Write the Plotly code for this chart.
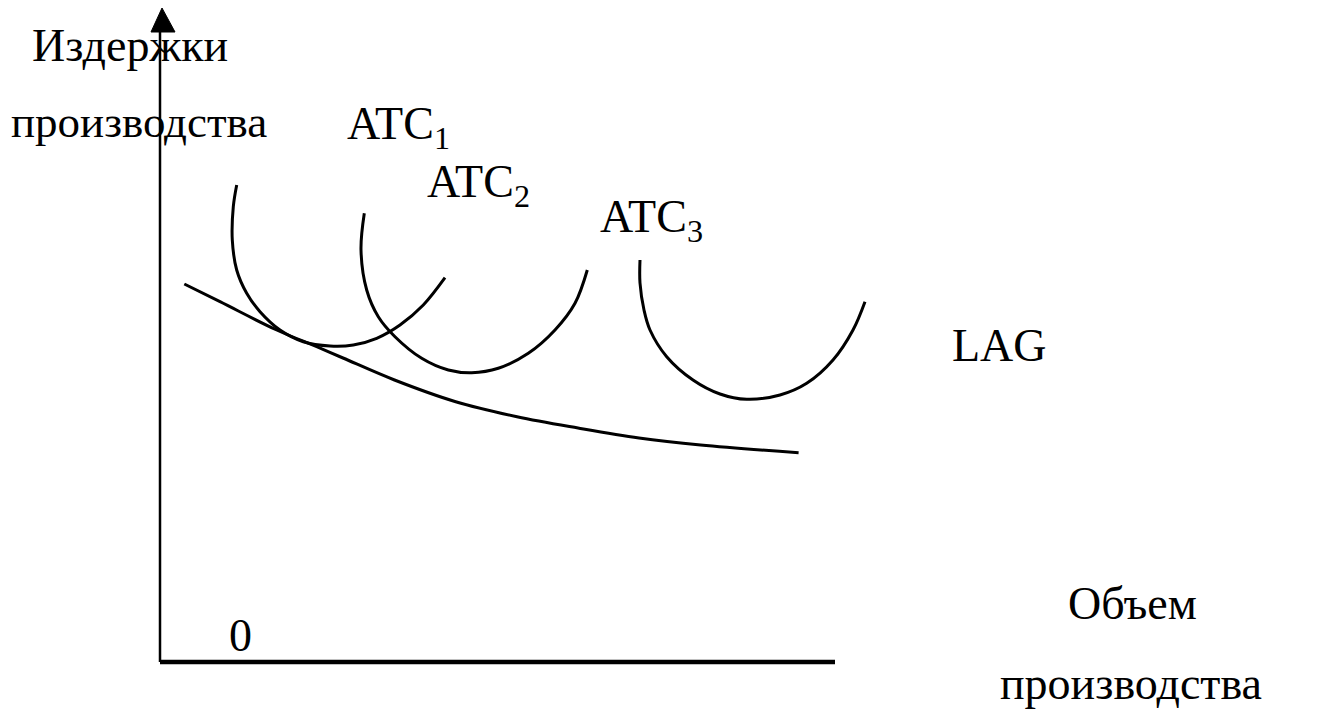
import plotly.graph_objects as go

# Data (quantity units, cost units)
atc1_q = [7.67, 7.33, 7.23, 7.67, 8.67, 10.0, 12.0, 14.33, 17.0, 19.33, 21.67, 24.0, 26.33, 28.5]
atc1_c = [47.7, 45.53, 42.2, 39.2, 36.87, 35.03, 33.2, 32.03, 31.6, 31.7, 32.37, 33.7, 35.7, 38.43]

atc2_q = [20.43, 20.1, 20.67, 21.83, 23.5, 26.17, 28.83, 31.17, 33.83, 36.83, 39.5, 41.5, 42.73]
atc2_c = [44.87, 41.2, 37.2, 34.53, 32.53, 30.37, 29.2, 28.93, 29.37, 30.87, 33.2, 35.87, 39.2]

atc3_q = [48.0, 48.0, 48.4, 49.0, 50.67, 53.3, 56.0, 58.67, 62.0, 64.67, 67.3, 69.3, 70.5]
atc3_c = [40.2, 37.9, 35.2, 33.2, 30.53, 28.2, 26.8, 26.27, 26.7, 27.87, 30.2, 33.2, 36.03]

lag_q = [2.43, 6.0, 11.67, 15.67, 18.3, 23.45, 29.57, 35.7, 41.8, 47.9, 54.06, 63.86]
lag_c = [37.8, 36.03, 33.2, 31.53, 30.4, 28.2, 26.03, 24.53, 23.4, 22.4, 21.7, 20.93]

x_axis_max = 67.5
y_axis_max = 65.4

FONT = "Liberation Serif"
FS = 46

fig = go.Figure()

for q, c in [(atc1_q, atc1_c), (atc2_q, atc2_c), (atc3_q, atc3_c), (lag_q, lag_c)]:
    fig.add_trace(go.Scatter(x=q, y=c, mode="lines",
                             line=dict(color="black", width=3, shape="spline", smoothing=1.0),
                             hoverinfo="skip", showlegend=False))

# axes
fig.add_trace(go.Scatter(x=[0, 0], y=[0, y_axis_max - 2.0], mode="lines",
                         line=dict(color="black", width=2.5), showlegend=False, hoverinfo="skip"))
fig.add_trace(go.Scatter(x=[0, x_axis_max], y=[0, 0], mode="lines",
                         line=dict(color="black", width=4.5), showlegend=False, hoverinfo="skip"))
# arrow head
fig.add_trace(go.Scatter(x=[-0.9, 0.2, 1.5, -0.9], y=[y_axis_max - 2.4, y_axis_max, y_axis_max - 2.4, y_axis_max - 2.4],
                         mode="lines", fill="toself", fillcolor="black",
                         line=dict(color="black", width=1), showlegend=False, hoverinfo="skip"))

def ann(x, y, text, xa="center", ya="middle", size=FS):
    fig.add_annotation(x=x, y=y, text=text, showarrow=False, xanchor=xa, yanchor=ya,
                       font=dict(family=FONT, size=size, color="black"))

ann(-3.0, 61.7, "Издержки")
ann(-15.1, 54.0, "производства", xa="left", size=45)
ann(18.5, 53.5, "ATC<sub>1</sub>", xa="left")
ann(26.5, 47.7, "ATC<sub>2</sub>", xa="left")
ann(43.8, 44.2, "ATC<sub>3</sub>", xa="left")
ann(79.0, 31.7, "LAG", xa="left")
ann(8.0, 2.7, "0")
ann(97.2, 5.9, "Объем")
ann(97.1, -2.1, "производства")

fig.update_layout(
    width=1344, height=721,
    margin=dict(l=0, r=0, t=0, b=0),
    paper_bgcolor="white", plot_bgcolor="white",
    xaxis=dict(range=[-15.2, 119.2], visible=False, fixedrange=True),
    yaxis=dict(range=[-6.7, 65.4], visible=False, fixedrange=True),
)

fig.write_html("out.html")
